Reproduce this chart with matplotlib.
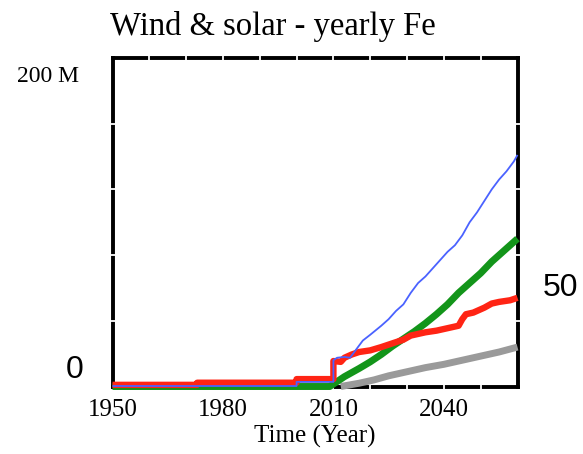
import matplotlib
matplotlib.use("Agg")
import matplotlib.pyplot as plt
from matplotlib.ticker import FixedLocator, NullFormatter

# Yearly Fe demand for wind & solar (millions), by scenario
blue_years = [1950, 2000, 2000, 2010, 2010, 2011, 2013, 2014.5, 2016, 2018, 2020, 2023,
              2025, 2027, 2029, 2031, 2033, 2035, 2037, 2039, 2041, 2043, 2045, 2047,
              2049, 2051, 2053, 2055, 2057, 2059, 2060]
blue_vals = [0.3, 0.3, 2.8, 2.8, 16, 17.5, 18, 17.5, 22, 28, 31.5, 37,
             41, 46, 50, 57, 63, 67, 72, 77, 82, 86, 92, 100,
             106, 113, 120, 126, 131, 137, 141]

red_years = [1950, 1973, 1973, 2000, 2000, 2010, 2010, 2012, 2013, 2015, 2017, 2020,
             2023, 2025, 2027, 2029, 2031, 2033, 2035, 2038, 2041, 2044, 2045, 2046,
             2048, 2050, 2051, 2053, 2055, 2058, 2060]
red_vals = [1, 1, 2.3, 2.3, 4.5, 4.5, 15.5, 15, 17.5, 19.5, 21, 22,
            24, 25.5, 27, 28.5, 31, 32, 33, 34, 35.5, 37, 41, 44,
            45, 47, 48, 50.5, 51.5, 52.5, 54]

green_years = [1950, 2009, 2011, 2013, 2015, 2017, 2020, 2023, 2026, 2029, 2032, 2035,
               2038, 2041, 2044, 2047, 2050, 2053, 2056, 2060]
green_vals = [0, 0, 3, 6, 8.5, 11, 15, 19.5, 24.5, 29, 33.5, 38.5,
              44, 50, 57, 63, 69, 76, 82, 90]

gray_years = [2012, 2017, 2021, 2025, 2030, 2035, 2040, 2045, 2050, 2055, 2060]
gray_vals = [0, 2, 4, 6.5, 9, 11.5, 13.5, 16, 18.5, 21, 24]

x_labels = [1950, 1980, 2010, 2040]
x_minor = [1960, 1970, 1980, 1990, 2000, 2010, 2020, 2030, 2040, 2050]
y_minor = [40, 80, 120, 160]

W, H = 583, 454
fig = plt.figure(figsize=(W / 100, H / 100), dpi=100)
ax = fig.add_axes([112.5 / W, 1 - 386.5 / H, 405 / W, 328.5 / H])

serif = ["Liberation Serif", "DejaVu Serif"]
sans = ["Liberation Sans", "DejaVu Sans"]

line_kw = dict(clip_on=False, solid_capstyle="butt", solid_joinstyle="round")
ax.plot(gray_years, gray_vals, color="#9a9a9a", lw=5.0, zorder=3, **line_kw)
ax.plot(green_years, green_vals, color="#13951a", lw=5.0, zorder=3.1, **line_kw)
ax.plot(red_years, red_vals, color="#ff2414", lw=4.6, zorder=3.2, **line_kw)
ax.plot(blue_years, blue_vals, color="#4a62ff", lw=1.3, zorder=3.3, **line_kw)

ax.set_xlim(1950, 2060)
ax.set_ylim(0, 200)

for sp in ax.spines.values():
    sp.set_linewidth(2.8)
    sp.set_color("black")
    sp.set_zorder(2.4)
ax.set_axisbelow(False)

ax.xaxis.remove_overlapping_locs = False
ax.yaxis.remove_overlapping_locs = False
ax.set_xticks(x_labels)
ax.set_xticklabels([str(v) for v in x_labels], fontfamily=serif, fontsize=18)
ax.xaxis.set_minor_locator(FixedLocator(x_minor))
ax.yaxis.set_minor_locator(FixedLocator(y_minor))
ax.set_yticks([])
ax.tick_params(axis="x", which="major", length=0, pad=9)
ax.tick_params(which="minor", direction="inout", length=4, width=1.3,
               color="white", top=True, right=True, bottom=True, left=True)
ax.xaxis.set_minor_formatter(NullFormatter())

ax.set_xlabel("Time (Year)", fontfamily=serif, fontsize=18, labelpad=3)

def px_text(x, y, s, **kw):
    fig.text(x / W, 1 - y / H, s, ha="center", va="center", **kw)

px_text(273, 27, "Wind & solar - yearly Fe", fontfamily=serif, fontsize=23.5)
px_text(48, 76, "200 M", fontfamily=serif, fontsize=17)
px_text(74.5, 370, "0", fontfamily=sans, fontsize=23)
px_text(561, 288, "50", fontfamily=sans, fontsize=23)

fig.savefig("out.png", dpi=100)
